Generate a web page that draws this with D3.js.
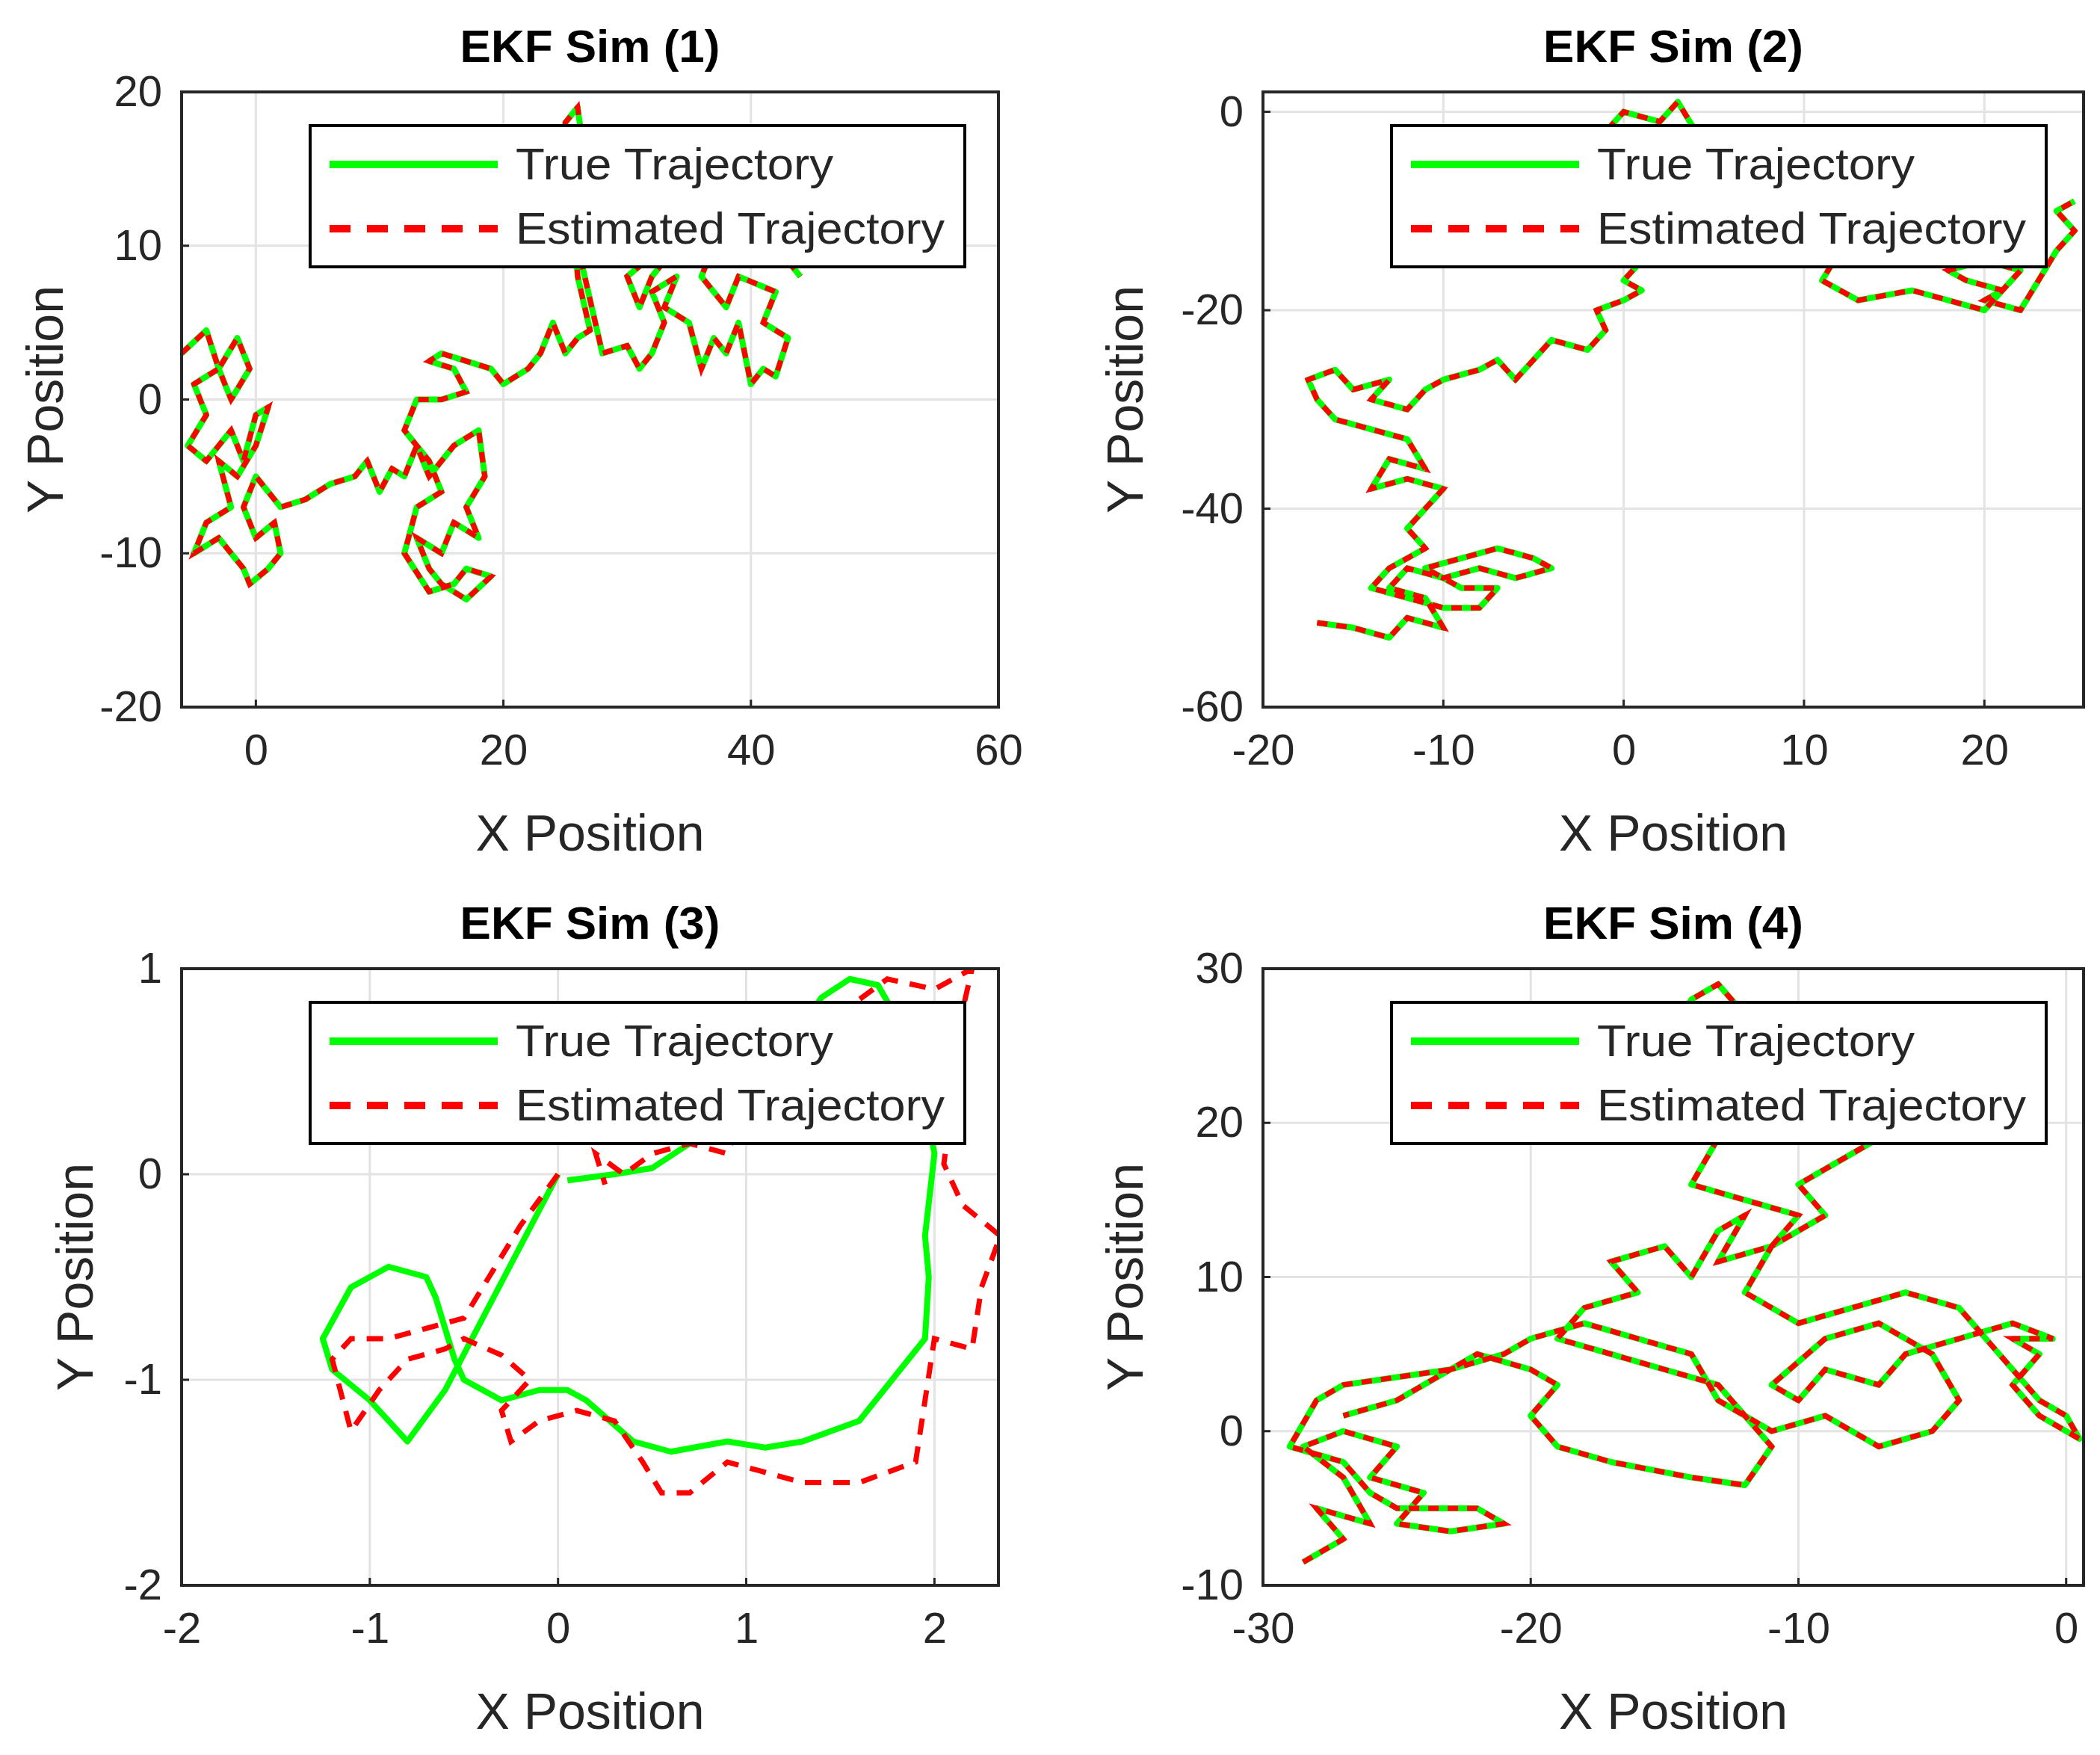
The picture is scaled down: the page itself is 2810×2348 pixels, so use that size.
<!DOCTYPE html>
<html><head><meta charset="utf-8">
<script src="https://cdn.jsdelivr.net/npm/d3@7"></script>
<style>body{margin:0;background:#fff}</style></head>
<body><svg id="c" width="2810" height="2348"></svg>
<script>
const titles = ["EKF Sim (1)","EKF Sim (2)","EKF Sim (3)","EKF Sim (4)"];
const legendLabels = ["True Trajectory","Estimated Trajectory"];
const xDomains = [[-6,60],[-20,25.5],[-2,2.34],[-30,0.65]];
const yDomains = [[-20,20],[-60,2],[-2,1],[-10,30]];
const xTicks = [[0,20,40,60],[-20,-10,0,10,20],[-2,-1,0,1,2],[-30,-20,-10,0]];
const yTicks = [[-20,-10,0,10,20],[-60,-40,-20,0],[-2,-1,0,1],[-10,0,10,20,30]];

const true1 = [[-6,3],[-4,4.5],[-3,2],[-1.5,4],[-0.5,2],[-2,0],[-3,2],[-5,1],[-4,-1],[-5.5,-3],[-4,-4],[-2,-2],[-1,-4],[0,-1],[1,-0.5],[0,-3],[-1.5,-5],[-3,-4],[-2,-7],[-4,-8],[-5,-10],[-3,-9],[-1,-11],[-0.5,-12],[1,-11],[2,-10],[1.5,-8],[0,-9],[-1,-7],[0,-5],[1,-6],[2,-7],[4,-6.5],[6,-5.5],[8,-5],[9,-4],[10,-6],[11,-4.5],[12,-5],[13,-3],[14,-5],[15,-4],[16,-3],[18,-2],[18.5,-5],[17,-7],[18,-9],[16,-8],[15,-10],[13,-9],[14,-11],[15,-12],[17,-13],[19,-11.5],[17,-11],[16,-12],[14,-12.5],[12,-10],[13,-7],[15,-6],[14,-4],[12,-2],[13,0],[15,0],[17,0.5],[16,2],[14,2.5],[15,3],[17,2.5],[19,2],[20,1],[22,2],[23,3],[24,5],[25,3],[26,4],[27,4.5],[26,8],[25.5,14],[25,18],[26,19],[26.5,16],[26,10],[28,3],[30,3.5],[31,2],[32,3],[33,5],[32,7],[34,8],[33,6],[35,5],[36,2],[37,4],[38,3],[39,5],[40,1],[41,2],[42,1.5],[43,4],[41,5],[42,7],[39,8],[38,6],[36,8],[37,10],[35,9],[34,10],[32,8],[31,6],[30,8],[33,10],[36,10],[40,9],[42,10],[44,8]];
const est1 = true1;
const true2 = [[-17,-51.5],[-15,-52],[-13,-53],[-12,-51],[-10,-52],[-11,-49],[-13,-48],[-12,-46],[-10,-47],[-8,-46],[-6,-47],[-4,-46],[-5,-45],[-7,-44],[-9,-45],[-11,-46],[-9,-48],[-7,-48],[-8,-50],[-10,-50],[-12,-49],[-14,-48],[-13,-46],[-11,-44],[-12,-42],[-11,-40],[-10,-38],[-12,-37],[-14,-38],[-13,-35],[-11,-36],[-12,-33],[-14,-32],[-16,-31],[-17,-29],[-17.5,-27],[-16,-26],[-15,-28],[-13,-27],[-14,-29],[-12,-30],[-11,-28],[-10,-27],[-8,-26],[-7,-25],[-6,-27],[-5,-25],[-4,-23],[-2,-24],[-1,-22],[-1.5,-20],[0,-19],[1,-18],[0,-17],[1,-15],[3,-14],[2,-12],[0,-10],[1,-8],[-1,-6],[0,-4],[-1,-2],[0,0],[2,-1],[3,1],[4,-2],[2,-4],[4,-6],[6,-8],[8,-11],[10,-12],[12,-14],[11,-17],[13,-19],[16,-18],[18,-19],[20,-20],[21,-18],[19,-17],[18,-16],[20,-15],[22,-16],[21,-18],[20,-19],[22,-20],[23,-17],[24,-14],[25,-12],[24,-10],[25,-9]];
const est2 = true2;
const true3 = [[0,0],[-0.2,-0.35],[-0.4,-0.7],[-0.6,-1.05],[-0.8,-1.3],[-1.0,-1.1],[-1.2,-0.95],[-1.25,-0.8],[-1.1,-0.55],[-0.9,-0.45],[-0.7,-0.5],[-0.65,-0.6],[-0.6,-0.75],[-0.55,-0.9],[-0.5,-1.0],[-0.3,-1.1],[-0.1,-1.05],[0.05,-1.05],[0.15,-1.1],[0.4,-1.3],[0.6,-1.35],[0.9,-1.3],[1.1,-1.33],[1.3,-1.3],[1.6,-1.2],[1.95,-0.8],[1.97,-0.5],[1.95,-0.3],[2.0,0.1],[1.9,0.6],[1.7,0.92],[1.55,0.95],[1.4,0.86],[1.2,0.6],[0.9,0.3],[0.7,0.15],[0.5,0.03],[0.3,0.0],[0.05,-0.03]];
const est3 = [[0,0],[-0.2,-0.25],[-0.4,-0.55],[-0.5,-0.7],[-0.7,-0.75],[-0.9,-0.8],[-1.1,-0.8],[-1.2,-0.9],[-1.1,-1.25],[-0.95,-1.05],[-0.8,-0.9],[-0.6,-0.85],[-0.5,-0.8],[-0.3,-0.88],[-0.15,-1.0],[-0.3,-1.15],[-0.25,-1.3],[-0.1,-1.2],[0.1,-1.15],[0.3,-1.2],[0.45,-1.4],[0.55,-1.55],[0.7,-1.55],[0.9,-1.4],[1.1,-1.45],[1.3,-1.5],[1.6,-1.5],[1.9,-1.4],[1.95,-1.1],[2.0,-0.8],[2.2,-0.85],[2.25,-0.55],[2.35,-0.3],[2.15,-0.15],[2.05,0.05],[2.1,0.4],[2.15,0.8],[2.2,1.0],[2.0,0.9],[1.75,0.95],[1.6,0.85],[1.3,0.6],[1.0,0.35],[0.9,0.1],[0.7,0.15],[0.5,0.1],[0.35,0.0],[0.2,0.1],[0.25,-0.05]];
const true4 = [[-28.5,-8.5],[-27,-7],[-28,-5],[-26,-6],[-27,-3],[-28.5,-1],[-27,0],[-25,-1],[-26,-3],[-24,-4],[-25,-6],[-23,-6.5],[-21,-6],[-22,-5],[-25,-5],[-26,-4],[-27,-2],[-29,-1],[-28,2],[-27,3],[-25,3.5],[-23,4],[-22,5],[-20,4],[-19,3],[-20,1],[-19,-1],[-17,-2],[-14,-3],[-12,-3.5],[-11,-1],[-12,1],[-13,3],[-15,4],[-17,5],[-19,6],[-18,8],[-16,9],[-17,11],[-15,12],[-14,10],[-13,13],[-12,14],[-13,11],[-11,12],[-10,14],[-12,15],[-14,16],[-13,19],[-14,22],[-15,25],[-14,28],[-13,29],[-12,27],[-11,25],[-10,24],[-8,22],[-6,20],[-8,18],[-10,16],[-9,14],[-11,12],[-12,9],[-10,7],[-8,8],[-6,9],[-4,8],[-3,6],[-2,4],[-1,2],[0,1],[0.5,-0.5],[-1,1],[-2,3],[-1,5],[-2,6],[-0.5,6],[-2,7],[-4,6],[-6,5],[-7,3],[-9,4],[-10,2],[-11,3],[-9,6],[-7,7],[-5,5],[-4,2],[-5,0],[-7,-1],[-8,0],[-9,1],[-11,0],[-13,2],[-14,5],[-16,6],[-18,7],[-20,6],[-21,5],[-23,4],[-25,2],[-27,1]];
const est4 = true4;
const trues = [true1,true2,true3,true4];
const ests = [est1,est2,est3,est4];

const svg = d3.select("#c");
const boxes = [[243,123,1336,946],[1690,123,2788,946],[243,1296,1336,2121],[1690,1296,2788,2121]];
const yLabelX = [60,1505,100,1505];
const FONT = "Liberation Sans, Arial, sans-serif", TXT = "#262626";
const fmt = d => String(d);

boxes.forEach((b,i)=>{
  const [L,T,R,B] = b;
  const x = d3.scaleLinear().domain(xDomains[i]).range([L,R]);
  const y = d3.scaleLinear().domain(yDomains[i]).range([B,T]);
  const g = svg.append("g");
  g.selectAll(".gx").data(xTicks[i]).join("line").attr("x1",d=>x(d)).attr("x2",d=>x(d)).attr("y1",T).attr("y2",B).attr("stroke","#e3e3e3").attr("stroke-width",3);
  g.selectAll(".gy").data(yTicks[i]).join("line").attr("y1",d=>y(d)).attr("y2",d=>y(d)).attr("x1",L).attr("x2",R).attr("stroke","#e3e3e3").attr("stroke-width",3);
  g.append("clipPath").attr("id","cp"+i).append("rect").attr("x",L).attr("y",T).attr("width",R-L).attr("height",B-T);
  const line = d3.line().x(d=>x(d[0])).y(d=>y(d[1]));
  const pg = g.append("g").attr("clip-path",`url(#cp${i})`);
  pg.append("path").attr("d",line(trues[i])).attr("fill","none").attr("stroke","#00ff00").attr("stroke-width",8).attr("stroke-linejoin","round");
  pg.append("path").attr("d",line(ests[i])).attr("fill","none").attr("stroke","#ff0000").attr("stroke-width",7).attr("stroke-dasharray",i==2?"22,16":"14,12");
  const xa = g.append("g").attr("transform",`translate(0,${B})`).call(d3.axisBottom(x).tickValues(xTicks[i]).tickSize(0).tickPadding(36).tickFormat(fmt));
  const ya = g.append("g").attr("transform",`translate(${L},0)`).call(d3.axisLeft(y).tickValues(yTicks[i]).tickSize(0).tickPadding(26).tickFormat(fmt));
  [xa,ya].forEach(a=>{a.select(".domain").remove();a.selectAll("text").attr("font-family",FONT).attr("font-size",58).attr("fill",TXT);});
  g.selectAll(".tx").data(xTicks[i]).join("line").attr("x1",d=>x(d)).attr("x2",d=>x(d)).attr("y1",B).attr("y2",B-10).attr("stroke",TXT).attr("stroke-width",3);
  g.selectAll(".ty").data(yTicks[i]).join("line").attr("y1",d=>y(d)).attr("y2",d=>y(d)).attr("x1",L).attr("x2",L+10).attr("stroke",TXT).attr("stroke-width",3);
  g.append("rect").attr("x",L).attr("y",T).attr("width",R-L).attr("height",B-T).attr("fill","none").attr("stroke",TXT).attr("stroke-width",4);
  g.append("text").attr("x",(L+R)/2).attr("y",T-40).attr("text-anchor","middle").attr("font-family",FONT).attr("font-weight","bold").attr("font-size",62).attr("fill","#000").text(titles[i]);
  g.append("text").attr("x",(L+R)/2).attr("y",B+192).attr("text-anchor","middle").attr("font-family",FONT).attr("font-size",68).attr("fill",TXT).text("X Position");
  g.append("text").attr("transform",`translate(${yLabelX[i]},${(T+B)/2}) rotate(-90)`).attr("text-anchor","middle").attr("dominant-baseline","central").attr("font-family",FONT).attr("font-size",68).attr("fill",TXT).text("Y Position");
  const lx = L+172, ly = T+45, lw = 876, lh = 189;
  const lg = g.append("g");
  lg.append("rect").attr("x",lx).attr("y",ly).attr("width",lw).attr("height",lh).attr("fill","#fff").attr("stroke","#000").attr("stroke-width",4);
  const rows = [{c:"#00ff00",dash:null},{c:"#ff0000",dash:"28,22"}];
  rows.forEach((r,k)=>{
    const yy = ly+52+k*86;
    lg.append("line").attr("x1",lx+26).attr("x2",lx+251).attr("y1",yy).attr("y2",yy).attr("stroke",r.c).attr("stroke-width",10).attr("stroke-dasharray",r.dash);
    lg.append("text").attr("x",lx+275).attr("y",yy+20).attr("font-family",FONT).attr("font-size",60).attr("fill",TXT).attr("textLength", k? 574: 425).attr("lengthAdjust","spacingAndGlyphs").text(legendLabels[k]);
  });
});
</script></body></html>
